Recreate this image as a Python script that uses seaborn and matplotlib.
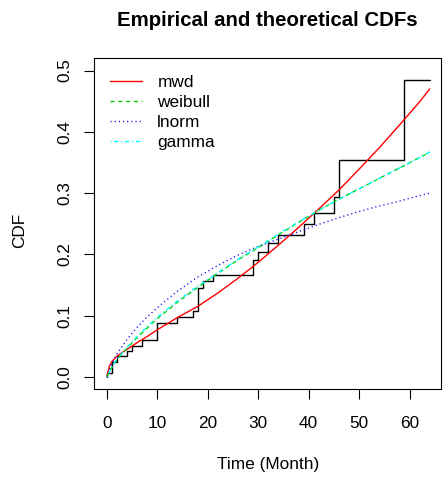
import numpy as np
import pandas as pd
import seaborn as sns
import matplotlib
matplotlib.use("Agg")
import matplotlib.pyplot as plt
from matplotlib.lines import Line2D

# empirical CDF
step_time = [0, 0, 1, 2, 4, 5, 7, 10, 14, 17, 18, 19, 21, 29, 30, 32, 34, 39, 41, 45, 46, 59, 64]
step_cdf = [0, 0.007, 0.025, 0.034, 0.042, 0.051, 0.060, 0.088, 0.098, 0.108, 0.146, 0.157,
            0.166, 0.191, 0.204, 0.218, 0.232, 0.249, 0.268, 0.294, 0.354, 0.485, 0.485]

# fitted CDFs, read at these times
curve_time = [0, 0.5, 1, 2, 4, 6, 8, 10, 14, 18, 22, 26, 30, 34, 38, 42, 46, 50, 54, 58, 62, 64]
mwd = [0, 0.017, 0.025, 0.034, 0.045, 0.056, 0.066, 0.077, 0.097, 0.115, 0.137, 0.161,
       0.187, 0.215, 0.244, 0.274, 0.305, 0.339, 0.374, 0.411, 0.449, 0.470]
weibull = [0, 0.008, 0.016, 0.028, 0.047, 0.064, 0.080, 0.095, 0.122, 0.146, 0.169, 0.191,
           0.211, 0.232, 0.252, 0.272, 0.290, 0.307, 0.324, 0.341, 0.358, 0.367]
lnorm = [0, 0.012, 0.022, 0.037, 0.061, 0.081, 0.098, 0.113, 0.140, 0.163, 0.182, 0.199,
         0.213, 0.225, 0.237, 0.249, 0.260, 0.270, 0.279, 0.287, 0.296, 0.300]
gamma = [0, 0.008, 0.016, 0.029, 0.048, 0.066, 0.082, 0.097, 0.124, 0.148, 0.170, 0.192,
         0.212, 0.233, 0.253, 0.272, 0.290, 0.307, 0.324, 0.341, 0.358, 0.367]

dist_names = ["mwd", "weibull", "lnorm", "gamma"]
colors = {"mwd": "#FF0000", "weibull": "#00CD00", "lnorm": "#0000FF", "gamma": "#00FFFF"}
dash_map = {"mwd": "", "weibull": (3.0, 2.6), "lnorm": (0.8, 2.2), "gamma": (0.8, 2.0, 3.0, 2.0)}

fits = pd.DataFrame({
    "time": curve_time * 4,
    "cdf": mwd + weibull + lnorm + gamma,
    "dist": [d for d in dist_names for _ in curve_time],
})
ecdf = pd.DataFrame({"time": step_time, "cdf": step_cdf})

sns.set_style("white")
plt.rcParams['font.family'] = ['Liberation Sans', 'DejaVu Sans']
plt.rcParams.update({"text.color": "black", "axes.labelcolor": "black",
                     "xtick.color": "black", "ytick.color": "black"})

fig = plt.figure(figsize=(4.46, 4.78), dpi=100)
ax = fig.add_axes([0.2108, 0.1856, 0.7787, 0.6925])

sns.lineplot(data=ecdf, x="time", y="cdf", estimator=None, sort=False,
             drawstyle="steps-post", color="black", linewidth=1.0, ax=ax)
sns.lineplot(data=fits, x="time", y="cdf", hue="dist", style="dist", estimator=None,
             palette=colors, dashes=dash_map, hue_order=dist_names, style_order=dist_names,
             linewidth=1.0, legend=False, ax=ax)

ax.set_xlim(-2.52, 66.3)
ax.set_ylim(-0.02, 0.52)
ax.set_xticks(np.arange(0, 61, 10))
ax.set_yticks(np.arange(0, 0.51, 0.1))
ax.set_yticklabels([f"{v:.1f}" for v in np.arange(0, 0.51, 0.1)], rotation=90, va="center")
ax.tick_params(axis="both", direction="out", length=7, width=0.8, colors="black",
               labelsize=12.4, left=True, bottom=True)
ax.tick_params(axis="x", pad=12)
ax.tick_params(axis="y", pad=8.8)
for s in ax.spines.values():
    s.set_color("black")
    s.set_linewidth(0.8)

ax.set_xlabel("Time (Month)", fontsize=12.4, va="center")
ax.xaxis.set_label_coords(0.5, -0.2287)
ax.set_ylabel("CDF", fontsize=12.4, va="center")
ax.yaxis.set_label_coords(-0.213, 0.48)

fig.text(0.6002, 1 - 26 / 478, "Empirical and theoretical CDFs", ha="center", va="baseline",
         fontsize=14.7, fontweight="bold")

handles = [Line2D([0], [0], color=colors[d], linewidth=1.0,
                  dashes=dash_map[d] if dash_map[d] else (None, None)) for d in dist_names]
handles[0].set_linestyle("-")
ax.legend(handles, dist_names, loc="upper left", bbox_to_anchor=(0.046, 0.951),
          frameon=False, borderpad=0, borderaxespad=0, handlelength=1.85,
          handletextpad=0.9, labelspacing=0.3, fontsize=12.4)

fig.savefig("out.png", dpi=100)
